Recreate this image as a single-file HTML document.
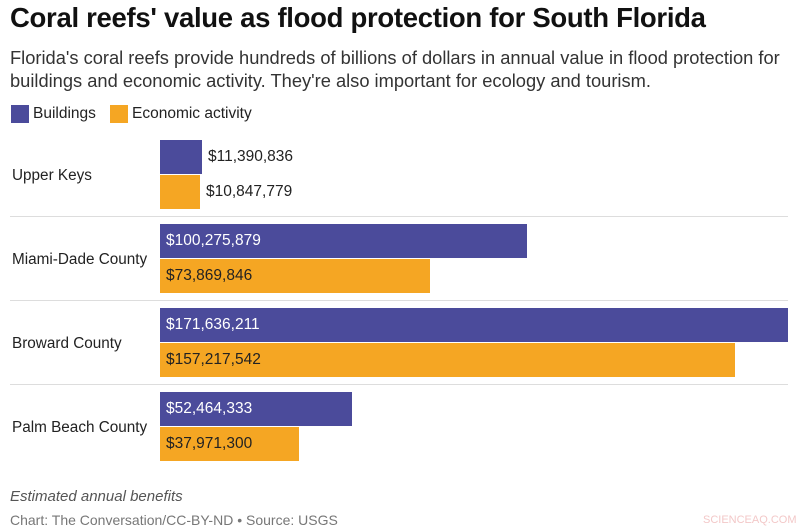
<!DOCTYPE html>
<html><head><meta charset="utf-8"><style>
body{margin:0;width:800px;height:530px;background:#fff;font-family:"Liberation Sans",sans-serif;position:relative;overflow:hidden;color:#222}
.a{position:absolute;white-space:nowrap}
.t{left:10px;top:2px;font-size:27.5px;font-weight:bold;color:#111;letter-spacing:-0.3px}
.s{left:10px;font-size:18.3px;color:#333}
.bar{position:absolute;left:160px;height:34px}
.b{background:#4b4b9b}.o{background:#f5a623}
.v{position:absolute;font-size:15.5px;line-height:34px}
.lab{position:absolute;left:12px;font-size:15.3px}
.sep{position:absolute;left:10px;width:778px;height:1px;background:#ddd}
</style></head><body>
<div class="a t">Coral reefs' value as flood protection for South Florida</div>
<div class="a s" style="top:47px">Florida's coral reefs provide hundreds of billions of dollars in annual value in flood protection for</div>
<div class="a s" style="top:70px">buildings and economic activity. They're also important for ecology and tourism.</div>
<div class="a" style="left:11px;top:105px;width:18px;height:18px;background:#4b4b9b"></div>
<div class="a" style="left:33px;top:105px;font-size:15.5px">Buildings</div>
<div class="a" style="left:110px;top:105px;width:18px;height:18px;background:#f5a623"></div>
<div class="a" style="left:132px;top:105px;font-size:15.5px">Economic activity</div>

<div class="lab" style="top:167px">Upper Keys</div>
<div class="bar b" style="top:140px;width:42px"></div><div class="v" style="left:208px;top:140px">$11,390,836</div>
<div class="bar o" style="top:175px;width:40px"></div><div class="v" style="left:206px;top:175px">$10,847,779</div>
<div class="sep" style="top:216px"></div>

<div class="lab" style="top:251px">Miami-Dade County</div>
<div class="bar b" style="top:224px;width:367px"></div><div class="v" style="left:166px;top:224px;color:#fff">$100,275,879</div>
<div class="bar o" style="top:259px;width:270px"></div><div class="v" style="left:166px;top:259px">$73,869,846</div>
<div class="sep" style="top:300px"></div>

<div class="lab" style="top:335px">Broward County</div>
<div class="bar b" style="top:308px;width:628px"></div><div class="v" style="left:166px;top:308px;color:#fff">$171,636,211</div>
<div class="bar o" style="top:343px;width:575px"></div><div class="v" style="left:166px;top:343px">$157,217,542</div>
<div class="sep" style="top:384px"></div>

<div class="lab" style="top:419px">Palm Beach County</div>
<div class="bar b" style="top:392px;width:192px"></div><div class="v" style="left:166px;top:392px;color:#fff">$52,464,333</div>
<div class="bar o" style="top:427px;width:139px"></div><div class="v" style="left:166px;top:427px">$37,971,300</div>

<div class="a" style="left:10px;top:488px;font-size:15px;font-style:italic;color:#555">Estimated annual benefits</div>
<div class="a" style="left:10px;top:512px;font-size:14px;color:#777">Chart: The Conversation/CC-BY-ND • Source: USGS</div>
<div class="a" style="left:703px;top:514px;font-size:11px;color:#f3c8c8">SCIENCEAQ.COM</div>
</body></html>
